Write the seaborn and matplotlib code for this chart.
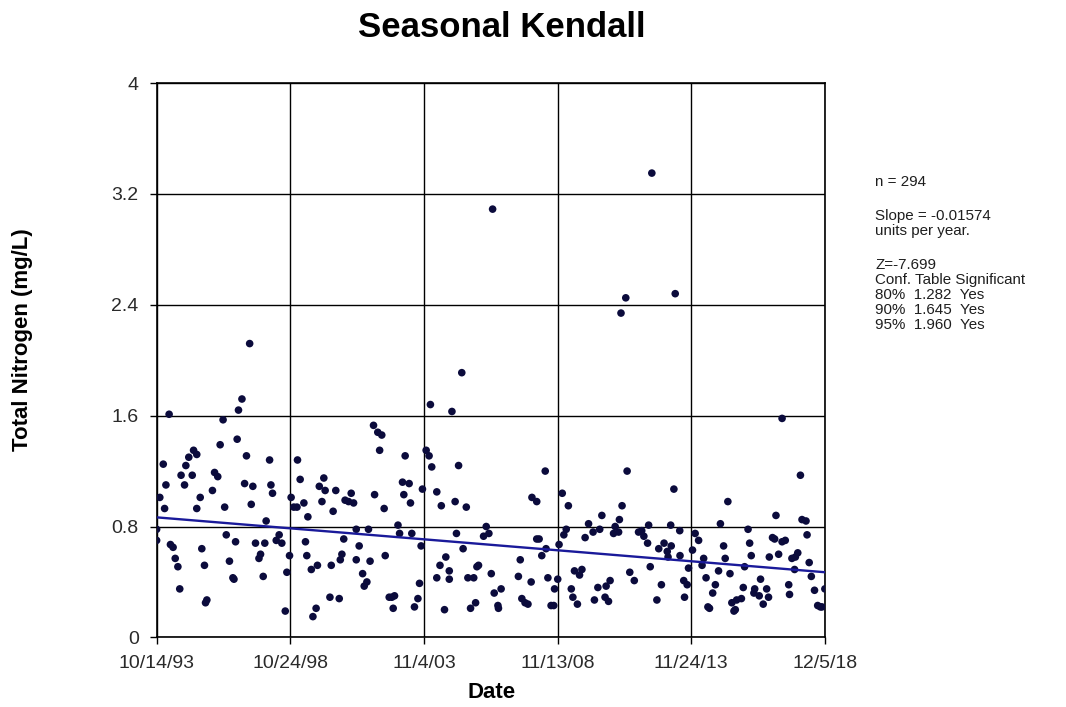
import numpy as np
import pandas as pd
import matplotlib
matplotlib.use("Agg")
import matplotlib.pyplot as plt
import seaborn as sns

# ---- data (decimal year, total nitrogen mg/L) ----
years_a = [1997.28, 1996.99, 1996.86, 1994.25, 1996.28, 1996.81, 1996.17, 1995.17, 1995.29, 1994.99,
           1997.16, 1998.03, 1999.08, 1994.03, 1994.88, 1994.70, 1995.12, 1995.96, 1996.08, 1999.18,
           1994.13, 1994.83, 1997.09, 1997.40, 1998.08, 1998.14, 1995.88, 1993.90, 1995.42, 1998.84,
           1997.34, 1994.08, 1995.29, 1996.34, 1998.94, 1999.06, 1999.32, 1999.47, 1997.90, 1993.78,
           1993.78, 1994.30, 1994.40, 1994.48, 1994.58, 1995.48, 1995.58, 1996.40, 1996.75, 1996.52,
           1997.50, 1997.85, 1997.69, 1997.63, 1998.28, 1998.39, 1998.49, 1998.78, 1999.38, 1999.43,
           1999.60, 1999.83, 1997.79, 1998.68, 1996.65, 1996.69, 1994.65, 1995.67, 1995.62, 1998.62,
           1999.78, 1999.66]
values_a = [2.12, 1.72, 1.64, 1.61, 1.57, 1.43, 1.39, 1.35, 1.32, 1.30,
            1.31, 1.28, 1.28, 1.25, 1.24, 1.17, 1.17, 1.19, 1.16, 1.14,
            1.10, 1.10, 1.11, 1.09, 1.10, 1.04, 1.06, 1.01, 1.01, 1.01,
            0.96, 0.93, 0.93, 0.94, 0.94, 0.94, 0.97, 0.87, 0.84, 0.78,
            0.70, 0.67, 0.65, 0.57, 0.51, 0.64, 0.52, 0.74, 0.69, 0.55,
            0.68, 0.68, 0.60, 0.57, 0.70, 0.74, 0.68, 0.59, 0.69, 0.59,
            0.49, 0.52, 0.44, 0.47, 0.43, 0.42, 0.35, 0.27, 0.25, 0.19,
            0.21, 0.15]

years_b = [2005.26, 2004.08, 2004.89, 2001.94, 2002.10, 2002.25, 2002.17, 2003.13, 2003.92, 2004.03,
           2004.13, 2005.14, 2000.07, 1999.90, 2000.12, 2000.52, 2001.10, 2000.00, 2000.87, 2001.00,
           2001.19, 2000.42, 2001.98, 2002.34, 2003.03, 2003.28, 2003.08, 2003.33, 2003.78, 2004.32,
           2004.49, 2005.01, 2005.43, 2001.29, 2001.75, 2002.86, 2002.92, 2003.38, 2000.82, 2001.40,
           2003.73, 2005.06, 2005.31, 2006.18, 2006.28, 2006.08, 2000.35, 2000.75, 2000.69, 2001.29,
           2001.81, 2002.38, 2001.53, 2001.69, 2001.59, 2003.67, 2004.66, 2004.44, 2004.79, 2004.32,
           2004.79, 2005.49, 2005.71, 2005.89, 2005.83, 2000.30, 2000.65, 2002.53, 2002.73, 2002.63,
           2002.68, 2003.61, 2003.48, 2004.61, 2005.59, 2005.78]
values_b = [1.91, 1.68, 1.63, 1.53, 1.48, 1.46, 1.35, 1.31, 1.35, 1.31,
            1.23, 1.24, 1.15, 1.09, 1.06, 1.06, 1.04, 0.98, 0.99, 0.98,
            0.97, 0.91, 1.03, 0.93, 1.12, 1.11, 1.03, 0.97, 1.07, 1.05,
            0.95, 0.98, 0.94, 0.78, 0.78, 0.81, 0.75, 0.75, 0.71, 0.66,
            0.66, 0.75, 0.64, 0.80, 0.75, 0.73, 0.52, 0.60, 0.56, 0.56,
            0.55, 0.59, 0.46, 0.40, 0.37, 0.39, 0.58, 0.52, 0.48, 0.43,
            0.42, 0.43, 0.43, 0.52, 0.51, 0.29, 0.28, 0.29, 0.30, 0.29,
            0.21, 0.28, 0.22, 0.20, 0.21, 0.25]

years_c = [2008.40, 2011.48, 2007.90, 2008.08, 2009.04, 2009.27, 2011.29, 2010.53, 2011.19, 2010.03,
           2012.29, 2009.19, 2009.10, 2009.90, 2010.20, 2010.45, 2011.03, 2010.97, 2011.16, 2011.91,
           2012.03, 2012.11, 2012.25, 2008.08, 2008.17, 2008.92, 2008.43, 2008.27, 2007.46, 2006.37,
           2007.39, 2007.87, 2008.50, 2008.87, 2009.50, 2009.78, 2009.69, 2008.75, 2006.74, 2006.48,
           2006.62, 2006.64, 2007.52, 2007.64, 2007.75, 2008.62, 2008.72, 2009.38, 2009.44, 2009.61,
           2010.25, 2010.38, 2010.69, 2010.84, 2010.65, 2010.78, 2011.58, 2011.75, 2012.35,
           2006.42, 2012.41, 2011.43, 2011.25, 2013.29]
values_c = [1.20, 1.20, 1.01, 0.98, 1.04, 0.95, 0.95, 0.88, 0.85, 0.82,
            0.81, 0.78, 0.74, 0.72, 0.76, 0.78, 0.80, 0.75, 0.76, 0.76,
            0.77, 0.73, 0.68, 0.71, 0.71, 0.67, 0.64, 0.59, 0.56, 0.46,
            0.44, 0.40, 0.43, 0.42, 0.48, 0.49, 0.45, 0.35, 0.35, 0.32,
            0.23, 0.21, 0.28, 0.25, 0.24, 0.23, 0.23, 0.35, 0.29, 0.24,
            0.27, 0.36, 0.37, 0.41, 0.29, 0.26, 0.47, 0.41, 0.51,
            3.09, 3.35, 2.45, 2.34, 2.48]

years_d = [2017.31, 2018.00, 2013.24, 2015.27, 2017.08, 2018.06, 2018.21, 2013.12, 2013.46, 2014.99,
           2016.03, 2014.04, 2014.17, 2016.09, 2015.11, 2016.95, 2017.03, 2017.31, 2017.43, 2018.25,
           2012.87, 2012.67, 2013.14, 2012.99, 2013.02, 2013.47, 2013.94, 2014.36, 2014.30, 2015.17,
           2016.15, 2016.83, 2017.18, 2017.68, 2017.81, 2017.90, 2018.33, 2013.79, 2014.92, 2015.35,
           2015.90, 2017.78, 2018.41, 2014.45, 2012.77, 2013.61, 2013.74, 2014.80, 2014.70, 2015.85,
           2016.50, 2016.28, 2016.25, 2016.45, 2016.73, 2016.80, 2016.60, 2017.56, 2017.59, 2018.53,
           2018.92, 2012.60, 2013.64, 2014.52, 2014.58, 2015.42, 2015.60, 2015.78, 2015.50, 2015.55,
           2018.65, 2018.75, 2018.81]
values_d = [1.58, 1.17, 1.07, 0.98, 0.88, 0.85, 0.84, 0.81, 0.77, 0.82,
            0.78, 0.75, 0.70, 0.68, 0.66, 0.72, 0.71, 0.69, 0.70, 0.74,
            0.68, 0.64, 0.66, 0.62, 0.58, 0.59, 0.63, 0.57, 0.52, 0.57,
            0.59, 0.58, 0.60, 0.57, 0.58, 0.61, 0.54, 0.50, 0.48, 0.46,
            0.51, 0.49, 0.44, 0.43, 0.38, 0.41, 0.38, 0.38, 0.32, 0.36,
            0.42, 0.35, 0.32, 0.30, 0.35, 0.29, 0.24, 0.38, 0.31, 0.34,
            0.35, 0.27, 0.29, 0.22, 0.21, 0.25, 0.27, 0.28, 0.19, 0.20,
            0.23, 0.22, 0.22]

trend_years = [1993.79, 2018.93]
trend_values = [0.866, 0.470]

tick_dates = ["1993-10-14", "1998-10-24", "2003-11-04", "2008-11-13", "2013-11-24", "2018-12-05"]
tick_labels = ["10/14/93", "10/24/98", "11/4/03", "11/13/08", "11/24/13", "12/5/18"]
y_ticks = [0, 0.8, 1.6, 2.4, 3.2, 4]
y_tick_labels = ["0", "0.8", "1.6", "2.4", "3.2", "4"]

stats_lines = ["n = 294", "Slope = -0.01574", "units per year.", "Z=-7.699",
               "Conf. Table Significant", "80%  1.282  Yes", "90%  1.645  Yes", "95%  1.960  Yes"]


def to_dates(yrs):
    yrs = np.asarray(yrs, dtype=float)
    return pd.Timestamp("1993-01-01") + pd.to_timedelta((yrs - 1993.0) * 365.25, unit="D")


df = pd.DataFrame({
    "Date": to_dates(years_a + years_b + years_c + years_d),
    "TN": values_a + values_b + values_c + values_d,
})
trend = pd.DataFrame({"Date": to_dates(trend_years), "TN": trend_values})

sns.set_theme(style="white")
plt.rcParams["font.family"] = ["Liberation Sans", "DejaVu Sans"]

fig = plt.figure(figsize=(10.66, 7.07), dpi=100)
ax = fig.add_axes([156.7 / 1066, 69.6 / 707, (825 - 156.7) / 1066, (637.4 - 83) / 707])

sns.scatterplot(data=df, x="Date", y="TN", ax=ax, s=30, color="#0b0b3c",
                edgecolor="none", linewidth=0, zorder=3)
sns.lineplot(data=trend, x="Date", y="TN", ax=ax, color="#1a1a9a", linewidth=1.7, zorder=4)

td = pd.to_datetime(tick_dates)
ax.set_xlim(td[0], td[-1])
ax.set_ylim(0, 4)
ax.set_xticks(td)
ax.set_xticklabels(tick_labels)
ax.set_yticks(y_ticks)
ax.set_yticklabels(y_tick_labels)
ax.grid(True, color="black", linewidth=1.0)
ax.set_axisbelow(True)
for sp in ax.spines.values():
    sp.set_color("black")
    sp.set_linewidth(1.2)
ax.tick_params(axis="both", which="major", direction="out", length=5, width=1.0,
               color="black", labelsize=14, labelcolor="#2a2a2a", pad=8,
               bottom=True, left=True)
ax.set_xlabel("")
ax.set_ylabel("")

fig.text(501.5 / 1066, 1 - 37 / 707, "Seasonal Kendall", ha="center", va="baseline",
         fontsize=25, fontweight="bold", color="black")
fig.text(492 / 1066, 1 - 692 / 707, "Date", ha="center", va="center",
         fontsize=16, fontweight="bold", color="black")
fig.text(23 / 1066, 1 - 340 / 707, "Total Nitrogen (mg/L)", ha="center", va="center",
         rotation=90, fontsize=16, fontweight="bold", color="black")

line_y = [182, 216, 231, 265, 280, 295, 310, 325]
for txt, yy in zip(stats_lines, line_y):
    fig.text(875 / 1066, 1 - yy / 707, txt, ha="left", va="center",
             fontsize=10.9, color="#1e1e1e")

fig.savefig("out.png", dpi=100)
